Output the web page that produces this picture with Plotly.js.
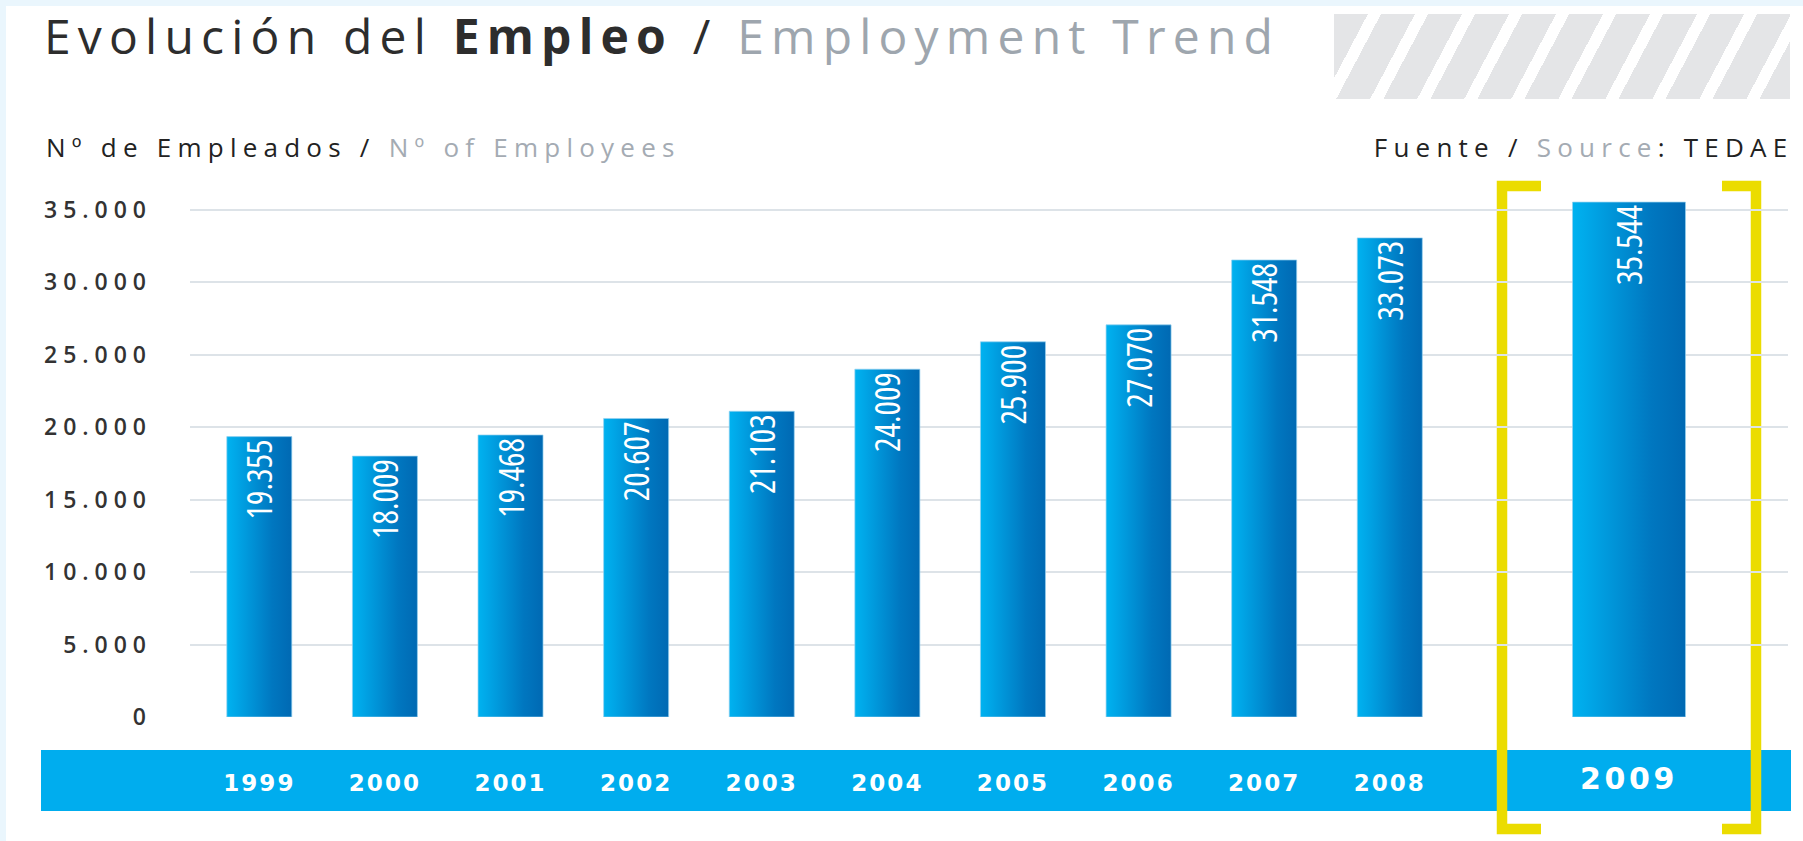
<!DOCTYPE html>
<html>
<head>
<meta charset="utf-8">
<script src="https://cdn.plot.ly/plotly-3.0.1.min.js"></script>
<style>
html,body{margin:0;padding:0;background:#eaf6fd;width:1803px;height:841px;overflow:hidden;}
#panel{position:absolute;left:6px;top:6px;width:1797px;height:835px;background:#ffffff;}
#hatch{position:absolute;left:1334px;top:14px;width:456px;height:85px;
  background:repeating-linear-gradient(117.8deg,#e4e5e7 0px,#e4e5e7 30px,rgba(255,255,255,0) 30px,rgba(255,255,255,0) 41.6px);}
#chart{position:absolute;left:0;top:0;width:1803px;height:841px;}
.gtitle{letter-spacing:0.15em;}
.annotation text{letter-spacing:0.24em;}
.y2tick text{letter-spacing:0.26em;}
.x2tick text{letter-spacing:0.09em;}
.x3tick text{letter-spacing:0.12em;}
.bartext{font-stretch:85% !important;}
</style>
</head>
<body>
<div id="panel"></div>
<div id="hatch"></div>
<div id="chart"></div>
<script>
// ---- data ----
const years = ['1999','2000','2001','2002','2003','2004','2005','2006','2007','2008'];
const employees = [19355, 18009, 19468, 20607, 21103, 24009, 25900, 27070, 31548, 33073];
const highlightYear = ['2009'];
const highlightEmployees = [35544];
const yTickValues = [0, 5000, 10000, 15000, 20000, 25000, 30000, 35000];
const gridValues = [5000, 10000, 15000, 20000, 25000, 30000, 35000];

const titleText = 'Evolución del <b>Empleo</b> / <span style="color:#9ea6ae">Employment Trend</span>';
const yLabelText = 'Nº de Empleados / <span style="color:#a4abb3">Nº of Employees</span>';
const sourceText = 'Fuente / <span style="color:#a4abb3">Source</span>: TEDAE';

// ---- geometry helpers (pixel -> paper) ----
const W = 1803, H = 841;
const ML = 190, MR = 15, MT = 180.5, MB = 124;
const PW = W - ML - MR, PH = H - MT - MB;
const px2x = p => (p - ML) / PW;
const py2y = p => (H - MB - p) / PH;
const Y_RANGE = [0, 37000];

const barFont = {family: '"Open Sans", "Noto Sans", sans-serif', size: 34, color: '#ffffff'};

const traces = [
  // empty trace that carries the full-width gridline subplot
  {type: 'scatter', x: [], y: [], xaxis: 'x', yaxis: 'y', hoverinfo: 'skip', showlegend: false},
  {
    type: 'bar', x: years, y: employees, xaxis: 'x2', yaxis: 'y2',
    width: 0.5175,
    marker: {color: '#0090d6', line: {width: 1, color: 'rgba(150,210,240,0.7)'}},
    texttemplate: '%{y:,}', textposition: 'inside', insidetextanchor: 'end',
    textangle: -90, constraintext: 'none', insidetextfont: barFont,
    hoverinfo: 'skip', showlegend: false
  },
  {
    type: 'bar', x: highlightYear, y: highlightEmployees, xaxis: 'x3', yaxis: 'y2',
    width: 0.452,
    marker: {color: '#0090d6', line: {width: 1, color: 'rgba(150,210,240,0.7)'}},
    texttemplate: '%{y:,}', textposition: 'inside', insidetextanchor: 'end',
    textangle: -90, constraintext: 'none', insidetextfont: barFont,
    hoverinfo: 'skip', showlegend: false
  }
];

function bracket(side) {
  const yt = 185.5, yb = 829;
  let pts;
  if (side === 'L') pts = [[1541, yt], [1502, yt], [1502, yb], [1541, yb]];
  else pts = [[1722, yt], [1756, yt], [1756, yb], [1722, yb]];
  const d = pts.map((p, i) => (i ? 'L' : 'M') + px2x(p[0]).toFixed(5) + ',' + py2y(p[1]).toFixed(5)).join(' ');
  return {type: 'path', xref: 'paper', yref: 'paper', path: d, layer: 'below',
          line: {color: '#ebdc00', width: 10.5}, fillcolor: 'rgba(0,0,0,0)'};
}

const layout = {
  width: W, height: H,
  margin: {l: ML, r: MR, t: MT, b: MB, pad: 0},
  paper_bgcolor: 'rgba(0,0,0,0)', plot_bgcolor: 'rgba(0,0,0,0)',
  separators: ',.',
  showlegend: false,
  font: {family: '"Open Sans", sans-serif', color: '#2a2a2a'},
  title: {
    text: titleText,
    xref: 'container', yref: 'container',
    x: 44 / W, xanchor: 'left', y: 1 - 37 / H, yanchor: 'middle',
    font: {family: '"Open Sans", sans-serif', size: 48, color: '#2d2d2d'}
  },
  // full-width axis pair for the horizontal gridlines
  xaxis: {domain: [0, 1], range: [0, 1], visible: false, fixedrange: true},
  yaxis: {
    range: Y_RANGE, tickvals: gridValues, showticklabels: false,
    showgrid: true, gridcolor: '#dde3e8', gridwidth: 2,
    zeroline: false, showline: false, ticks: '', fixedrange: true
  },
  xaxis2: {
    type: 'category', domain: [px2x(196.5), px2x(1452.6)], range: [-0.5, 9.5],
    anchor: 'y2', showgrid: false, zeroline: false, showline: false, ticks: '',
    ticklabelstandoff: 50,
    tickfont: {family: '"DejaVu Sans", sans-serif', size: 23, color: '#ffffff', weight: 'bold'},
    fixedrange: true
  },
  xaxis3: {
    type: 'category', domain: [px2x(1504), px2x(1754)], range: [-0.5, 0.5],
    anchor: 'y2', showgrid: false, zeroline: false, showline: false, ticks: '',
    ticklabelstandoff: 41,
    tickfont: {family: '"DejaVu Sans", sans-serif', size: 30, color: '#ffffff', weight: 'bold'},
    fixedrange: true
  },
  yaxis2: {
    range: Y_RANGE, tickvals: yTickValues, tickformat: ',d',
    anchor: 'free', position: 0,
    showgrid: false, zeroline: false, showline: false, ticks: '', ticklabelstandoff: 38,
    tickfont: {family: '"Open Sans", sans-serif', size: 23, color: '#333333', weight: 600},
    fixedrange: true
  },
  shapes: [
    {type: 'rect', xref: 'paper', yref: 'paper', layer: 'below',
     x0: px2x(41), x1: px2x(1791), y0: py2y(811), y1: py2y(750),
     fillcolor: '#00adee', line: {width: 0}},
    bracket('L'), bracket('R')
  ],
  annotations: [
    {text: yLabelText, xref: 'paper', yref: 'paper', x: px2x(44), y: py2y(146),
     xanchor: 'left', yanchor: 'middle', align: 'left', showarrow: false,
     font: {family: '"Open Sans", sans-serif', size: 26, color: '#222222'}},
    {text: sourceText, xref: 'paper', yref: 'paper', x: px2x(1795), y: py2y(146),
     xanchor: 'right', yanchor: 'middle', align: 'right', showarrow: false,
     font: {family: '"Open Sans", sans-serif', size: 26, color: '#222222'}}
  ]
};

Plotly.newPlot('chart', traces, layout, {staticPlot: true, displayModeBar: false}).then(function (gd) {
  const ns = 'http://www.w3.org/2000/svg';
  const svg = gd.querySelector('svg.main-svg');
  let defs = svg.querySelector('defs');
  if (!defs) { defs = document.createElementNS(ns, 'defs'); svg.insertBefore(defs, svg.firstChild); }
  const grad = document.createElementNS(ns, 'linearGradient');
  grad.setAttribute('id', 'barGrad');
  grad.setAttribute('x1', '0'); grad.setAttribute('y1', '0');
  grad.setAttribute('x2', '1'); grad.setAttribute('y2', '0');
  [['0', '#00b2f0'], ['0.15', '#00a6e7'], ['0.7', '#0077c0'], ['1', '#0069b3']].forEach(function (s) {
    const st = document.createElementNS(ns, 'stop');
    st.setAttribute('offset', s[0]); st.setAttribute('stop-color', s[1]);
    grad.appendChild(st);
  });
  defs.appendChild(grad);
  gd.querySelectorAll('.bars .point path').forEach(function (p) { p.style.fill = 'url(#barGrad)'; });
});
</script>
</body>
</html>
